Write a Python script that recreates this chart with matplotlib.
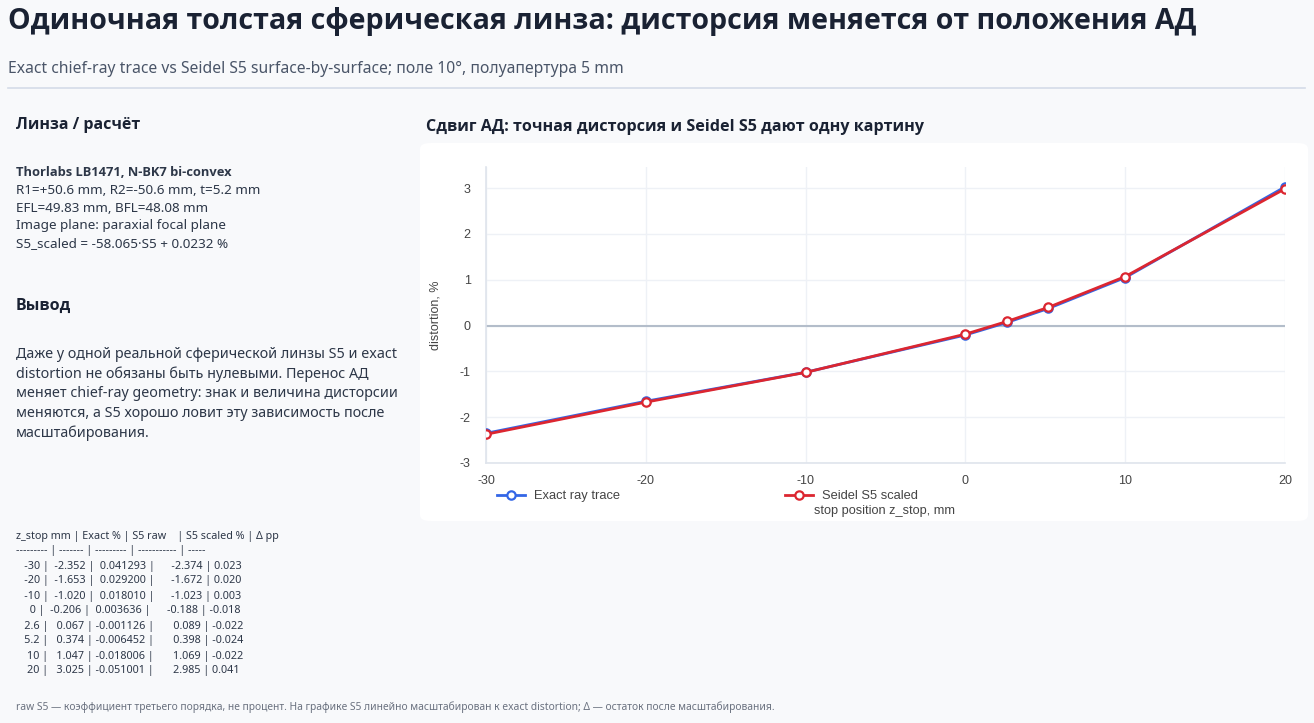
import matplotlib
matplotlib.use("Agg")
import matplotlib.pyplot as plt
from matplotlib.patches import FancyBboxPatch
from matplotlib.lines import Line2D

z_stop = [-30, -20, -10, 0, 2.6, 5.2, 10, 20]
exact_pct = [-2.352, -1.653, -1.020, -0.206, 0.067, 0.374, 1.047, 3.025]
s5_raw = [0.041293, 0.029200, 0.018010, 0.003636, -0.001126, -0.006452, -0.018006, -0.051001]
s5_scaled = [-2.374, -1.672, -1.023, -0.188, 0.089, 0.398, 1.069, 2.985]
delta_pp = [0.023, 0.020, 0.003, -0.018, -0.022, -0.024, -0.022, 0.041]

x_ticks = [-30, -20, -10, 0, 10, 20]
y_ticks = [-3, -2, -1, 0, 1, 2, 3]

W, H = 1314, 723
BG = "#f8f9fb"
TXT = "#1a2233"
GRAY = "#4a5568"
SANS = ["Noto Sans", "DejaVu Sans"]
BOLD = ["Open Sans", "Lato", "DejaVu Sans"]
ARIAL = ["Liberation Sans", "DejaVu Sans"]

plt.rcParams["font.family"] = SANS
plt.rcParams["axes.unicode_minus"] = False

fig = plt.figure(figsize=(W / 100, H / 100), dpi=100, facecolor=BG)


def fx(px):
    return px / W


def fy(py):
    return 1 - py / H


# header
fig.text(fx(8), fy(22), "Одиночная толстая сферическая линза: дисторсия меняется от положения АД",
         fontsize=20.6, fontweight="bold", family=BOLD, color=TXT, va="center", ha="left")
fig.text(fx(8), fy(69), "Exact chief-ray trace vs Seidel S5 surface-by-surface; поле 10°, полуапертура 5 mm",
         fontsize=11.3, color=GRAY, va="center", ha="left")
fig.add_artist(Line2D([fx(8), fx(1305)], [fy(88), fy(88)], color="#d5dce8", lw=1.2))

# left panel
fig.text(fx(16), fy(125), "Линза / расчёт", fontsize=11.5, fontweight="bold", family=BOLD,
         color=TXT, va="center")
lens_lines = [
    "R1=+50.6 mm, R2=-50.6 mm, t=5.2 mm",
    "EFL=49.83 mm, BFL=48.08 mm",
    "Image plane: paraxial focal plane",
    "S5_scaled = -58.065·S5 + 0.0232 %",
]
fig.text(fx(16), fy(172), "Thorlabs LB1471, N-BK7 bi-convex", fontsize=9.3, fontweight="bold",
         family=BOLD, color="#2d3748", va="center")
for i, line in enumerate(lens_lines):
    fig.text(fx(16), fy(190 + 18 * i), line, fontsize=9.7, color="#2d3748", va="center")

fig.text(fx(16), fy(306), "Вывод", fontsize=11.5, fontweight="bold", family=BOLD, color=TXT, va="center")
para = [
    "Даже у одной реальной сферической линзы S5 и exact",
    "distortion не обязаны быть нулевыми. Перенос АД",
    "меняет chief-ray geometry: знак и величина дисторсии",
    "меняются, а S5 хорошо ловит эту зависимость после",
    "масштабирования.",
]
for i, line in enumerate(para):
    fig.text(fx(16), fy(355 + 19.5 * i), line, fontsize=10.3, color="#2d3748", va="center")

# table
rows = ["z_stop mm | Exact % | S5 raw    | S5 scaled % | Δ pp",
        "--------- | ------- | --------- | ----------- | -----"]
for z, e, r, s, d in zip(z_stop, exact_pct, s5_raw, s5_scaled, delta_pp):
    zs = f"{z:g}"
    rows.append(f"   {zs:>3} |  {e:6.3f} | {r:9.6f} |      {s:6.3f} | {d:.3f}")
for i, line in enumerate(rows):
    fig.text(fx(16), fy(536 + 15 * i), line, fontsize=7.75, color="#2d3748", va="center")

fig.text(fx(16), fy(707),
         "raw S5 — коэффициент третьего порядка, не процент. На графике S5 линейно масштабирован к exact distortion; Δ — остаток после масштабирования.",
         fontsize=7.4, color="#6b7280", va="center")

# chart card
card = FancyBboxPatch((fx(420), fy(521)), fx(1308) - fx(420), fy(143) - fy(521),
                      boxstyle="round,pad=0,rounding_size=0.008", transform=fig.transFigure,
                      facecolor="white", edgecolor="none", zorder=-1)
fig.patches.append(card)
fig.text(fx(426), fy(127), "Сдвиг АД: точная дисторсия и Seidel S5 дают одну картину",
         fontsize=11.65, fontweight="bold", family=BOLD, color=TXT, va="center")

ax = fig.add_axes([fx(486), fy(463), fx(1285) - fx(486), fy(167) - fy(463)], zorder=2)
ax.set_facecolor("white")
ax.set_xlim(-30, 20)
ax.set_ylim(-3, 3.46)
ax.set_xticks(x_ticks)
ax.set_yticks(y_ticks)
ax.grid(True, color="#eef1f6", lw=1)
ax.set_axisbelow(True)
for side in ["top", "right"]:
    ax.spines[side].set_visible(False)
for side in ["left", "bottom"]:
    ax.spines[side].set_color("#dfe4ec")
    ax.spines[side].set_linewidth(1.2)
ax.axhline(0, color="#b3bdca", lw=1.5, zorder=1)
ax.tick_params(length=0, labelsize=9, labelcolor="#444")
ax.tick_params(axis="y", pad=11)
ax.tick_params(axis="x", pad=9)
for lab in ax.get_xticklabels() + ax.get_yticklabels():
    lab.set_family(ARIAL)

blue = "#3366e6"
red = "#dc2630"
mk = dict(marker="o", markersize=6, markerfacecolor="white", markeredgewidth=1.6)
ax.plot(z_stop, exact_pct, color=blue, lw=2, markeredgecolor=blue, zorder=3, **mk)
ax.plot(z_stop, s5_scaled, color=red, lw=2, markeredgecolor=red, zorder=4, **mk)

ax.set_ylabel("distortion, %", fontsize=9, color="#444", family=ARIAL, labelpad=13)
fig.text(fx(885), fy(511), "stop position z_stop, mm", fontsize=9.2,
         color="#444", family=ARIAL, ha="center", va="center")

h1 = Line2D([], [], color=blue, lw=2, markeredgecolor=blue, **mk)
h2 = Line2D([], [], color=red, lw=2, markeredgecolor=red, **mk)
leg1 = fig.legend([h1], ["Exact ray trace"], loc="center left", bbox_to_anchor=(fx(497), fy(496)),
                  frameon=False, prop={"family": ARIAL, "size": 9.3}, handlelength=2.2,
                  handletextpad=0.7, borderaxespad=0, borderpad=0)
leg2 = fig.legend([h2], ["Seidel S5 scaled"], loc="center left", bbox_to_anchor=(fx(785), fy(496)),
                  frameon=False, prop={"family": ARIAL, "size": 9.3}, handlelength=2.2,
                  handletextpad=0.7, borderaxespad=0, borderpad=0)
for leg in (leg1, leg2):
    for t in leg.get_texts():
        t.set_color("#444")

fig.savefig("out.png", dpi=100, facecolor=BG)
